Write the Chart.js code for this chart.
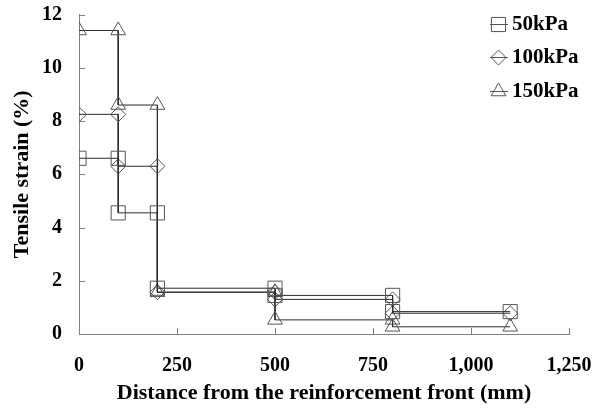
<!DOCTYPE html>
<html>
<head>
<meta charset="utf-8">
<script src="https://cdn.jsdelivr.net/npm/chart.js@4.4.0/dist/chart.umd.min.js"></script>
<style>
  html, body { margin: 0; padding: 0; background: #fff; }
  #wrap { width: 606px; height: 410px; }
</style>
</head>
<body>
<div id="wrap"><canvas id="strain" width="606" height="410"></canvas></div>
<script>
// distance from the front (mm); every step is listed twice so the line steps down
const distance = [0, 100, 100, 200, 200, 500, 500, 800, 800, 1100];
const strain50 = [6.6, 6.6, 4.55, 4.55, 1.72, 1.72, 1.45, 1.45, 0.84, 0.84];
const strain100 = [8.25, 8.25, 6.3, 6.3, 1.57, 1.57, 1.3, 1.3, 0.78, 0.78];
const strain150 = [11.4, 11.4, 8.6, 8.6, 1.57, 1.57, 0.53, 0.53, 0.27, 0.27];
const seriesNames = ['50kPa', '100kPa', '150kPa'];
const xTicks = [0, 250, 500, 750, 1000, 1250];
const xTickLabels = ['0', '250', '500', '750', '1,000', '1,250'];
const yTicks = [0, 2, 4, 6, 8, 10, 12];

const serif = '"Liberation Serif", "Times New Roman", serif';
const axisGray = '#808080';
const markerStyles = [
  { pointStyle: 'rect', radius: 10 },
  { pointStyle: 'rectRot', radius: 7.5 },
  { pointStyle: 'triangle', radius: 8.5 }
];

function toPoints(values) {
  return values.map((v, i) => ({ x: distance[i], y: v }));
}

function makeSet(label, values, idx) {
  return {
    label: label,
    data: toPoints(values),
    borderColor: '#2a2a2a',
    borderWidth: 1,
    pointStyle: markerStyles[idx].pointStyle,
    pointRadius: markerStyles[idx].radius,
    pointHoverRadius: markerStyles[idx].radius,
    pointBorderColor: '#555',
    pointBackgroundColor: 'rgba(0,0,0,0)',
    pointBorderWidth: 1,
    fill: false,
    tension: 0
  };
}

// small tick marks pointing into the plot
const inwardTicks = {
  id: 'inwardTicks',
  beforeDatasetsDraw(chart) {
    const { ctx, chartArea, scales } = chart;
    ctx.save();
    ctx.strokeStyle = axisGray;
    ctx.lineWidth = 1;
    ctx.beginPath();
    xTicks.forEach(v => {
      const px = Math.round(scales.x.getPixelForValue(v)) + 0.5;
      ctx.moveTo(px, chartArea.bottom);
      ctx.lineTo(px, chartArea.bottom - 6);
    });
    yTicks.forEach(v => {
      const py = Math.round(scales.y.getPixelForValue(v)) + 0.5;
      ctx.moveTo(chartArea.left, py);
      ctx.lineTo(chartArea.left + 6, py);
    });
    ctx.stroke();
    ctx.restore();
  }
};

function drawMarker(ctx, style, r, x, y) {
  ctx.beginPath();
  if (style === 'rect') {
    const s = r * Math.SQRT1_2;
    ctx.rect(x - s, y - s, 2 * s, 2 * s);
  } else if (style === 'rectRot') {
    ctx.moveTo(x, y - r);
    ctx.lineTo(x + r, y);
    ctx.lineTo(x, y + r);
    ctx.lineTo(x - r, y);
    ctx.closePath();
  } else {
    ctx.moveTo(x, y - r);
    ctx.lineTo(x + r * Math.sqrt(3) / 2, y + r / 2);
    ctx.lineTo(x - r * Math.sqrt(3) / 2, y + r / 2);
    ctx.closePath();
  }
  ctx.stroke();
}

const cornerLegend = {
  id: 'cornerLegend',
  afterDraw(chart) {
    const ctx = chart.ctx;
    ctx.save();
    ctx.font = 'bold 21px ' + serif;
    ctx.textBaseline = 'middle';
    ctx.textAlign = 'left';
    seriesNames.forEach((name, i) => {
      const y = 23.5 + i * 33.5;
      ctx.strokeStyle = '#555';
      ctx.lineWidth = 1;
      ctx.beginPath();
      ctx.moveTo(490, Math.round(y) + 0.5);
      ctx.lineTo(508, Math.round(y) + 0.5);
      ctx.stroke();
      drawMarker(ctx, markerStyles[i].pointStyle, markerStyles[i].radius, 498.5, Math.round(y) + 0.5);
      ctx.fillStyle = '#000';
      ctx.fillText(name, 512, y + 1);
    });
    ctx.restore();
  }
};

new Chart(document.getElementById('strain'), {
  type: 'line',
  data: {
    datasets: [
      makeSet(seriesNames[0], strain50, 0),
      makeSet(seriesNames[1], strain100, 1),
      makeSet(seriesNames[2], strain150, 2)
    ]
  },
  options: {
    responsive: false,
    animation: false,
    events: [],
    layout: { padding: { top: 14.5, right: 37, left: 0, bottom: 0 } },
    plugins: {
      legend: { display: false },
      tooltip: { enabled: false }
    },
    scales: {
      x: {
        type: 'linear',
        min: 0,
        max: 1250,
        afterFit: s => { s.height = 76; s.paddingLeft = 0; s.paddingRight = 0; },
        afterBuildTicks: s => { s.ticks = xTicks.map(v => ({ value: v })); },
        grid: { display: true, drawOnChartArea: false, drawTicks: false },
        border: { display: true, color: axisGray, width: 1 },
        ticks: {
          padding: 20,
          color: '#000',
          font: { family: serif, size: 20, weight: 'bold' },
          maxRotation: 0,
          callback: v => xTickLabels[xTicks.indexOf(v)]
        },
        title: {
          display: true,
          text: 'Distance from the reinforcement front (mm)',
          color: '#000',
          font: { family: serif, size: 22, weight: 'bold' },
          padding: { top: 0, bottom: 3 }
        }
      },
      y: {
        min: 0,
        max: 12,
        afterFit: s => { s.width = 79; s.paddingTop = 0; s.paddingBottom = 0; },
        afterBuildTicks: s => { s.ticks = yTicks.map(v => ({ value: v })); },
        grid: { display: true, drawOnChartArea: false, drawTicks: false },
        border: { display: true, color: axisGray, width: 1 },
        ticks: {
          padding: 17,
          color: '#000',
          font: { family: serif, size: 20, weight: 'bold' },
          callback: v => String(v)
        },
        title: {
          display: true,
          text: 'Tensile strain (%)',
          color: '#000',
          font: { family: serif, size: 22, weight: 'bold' },
          padding: { top: 9, bottom: 0 }
        }
      }
    }
  },
  plugins: [inwardTicks, cornerLegend]
});
</script>
</body>
</html>
